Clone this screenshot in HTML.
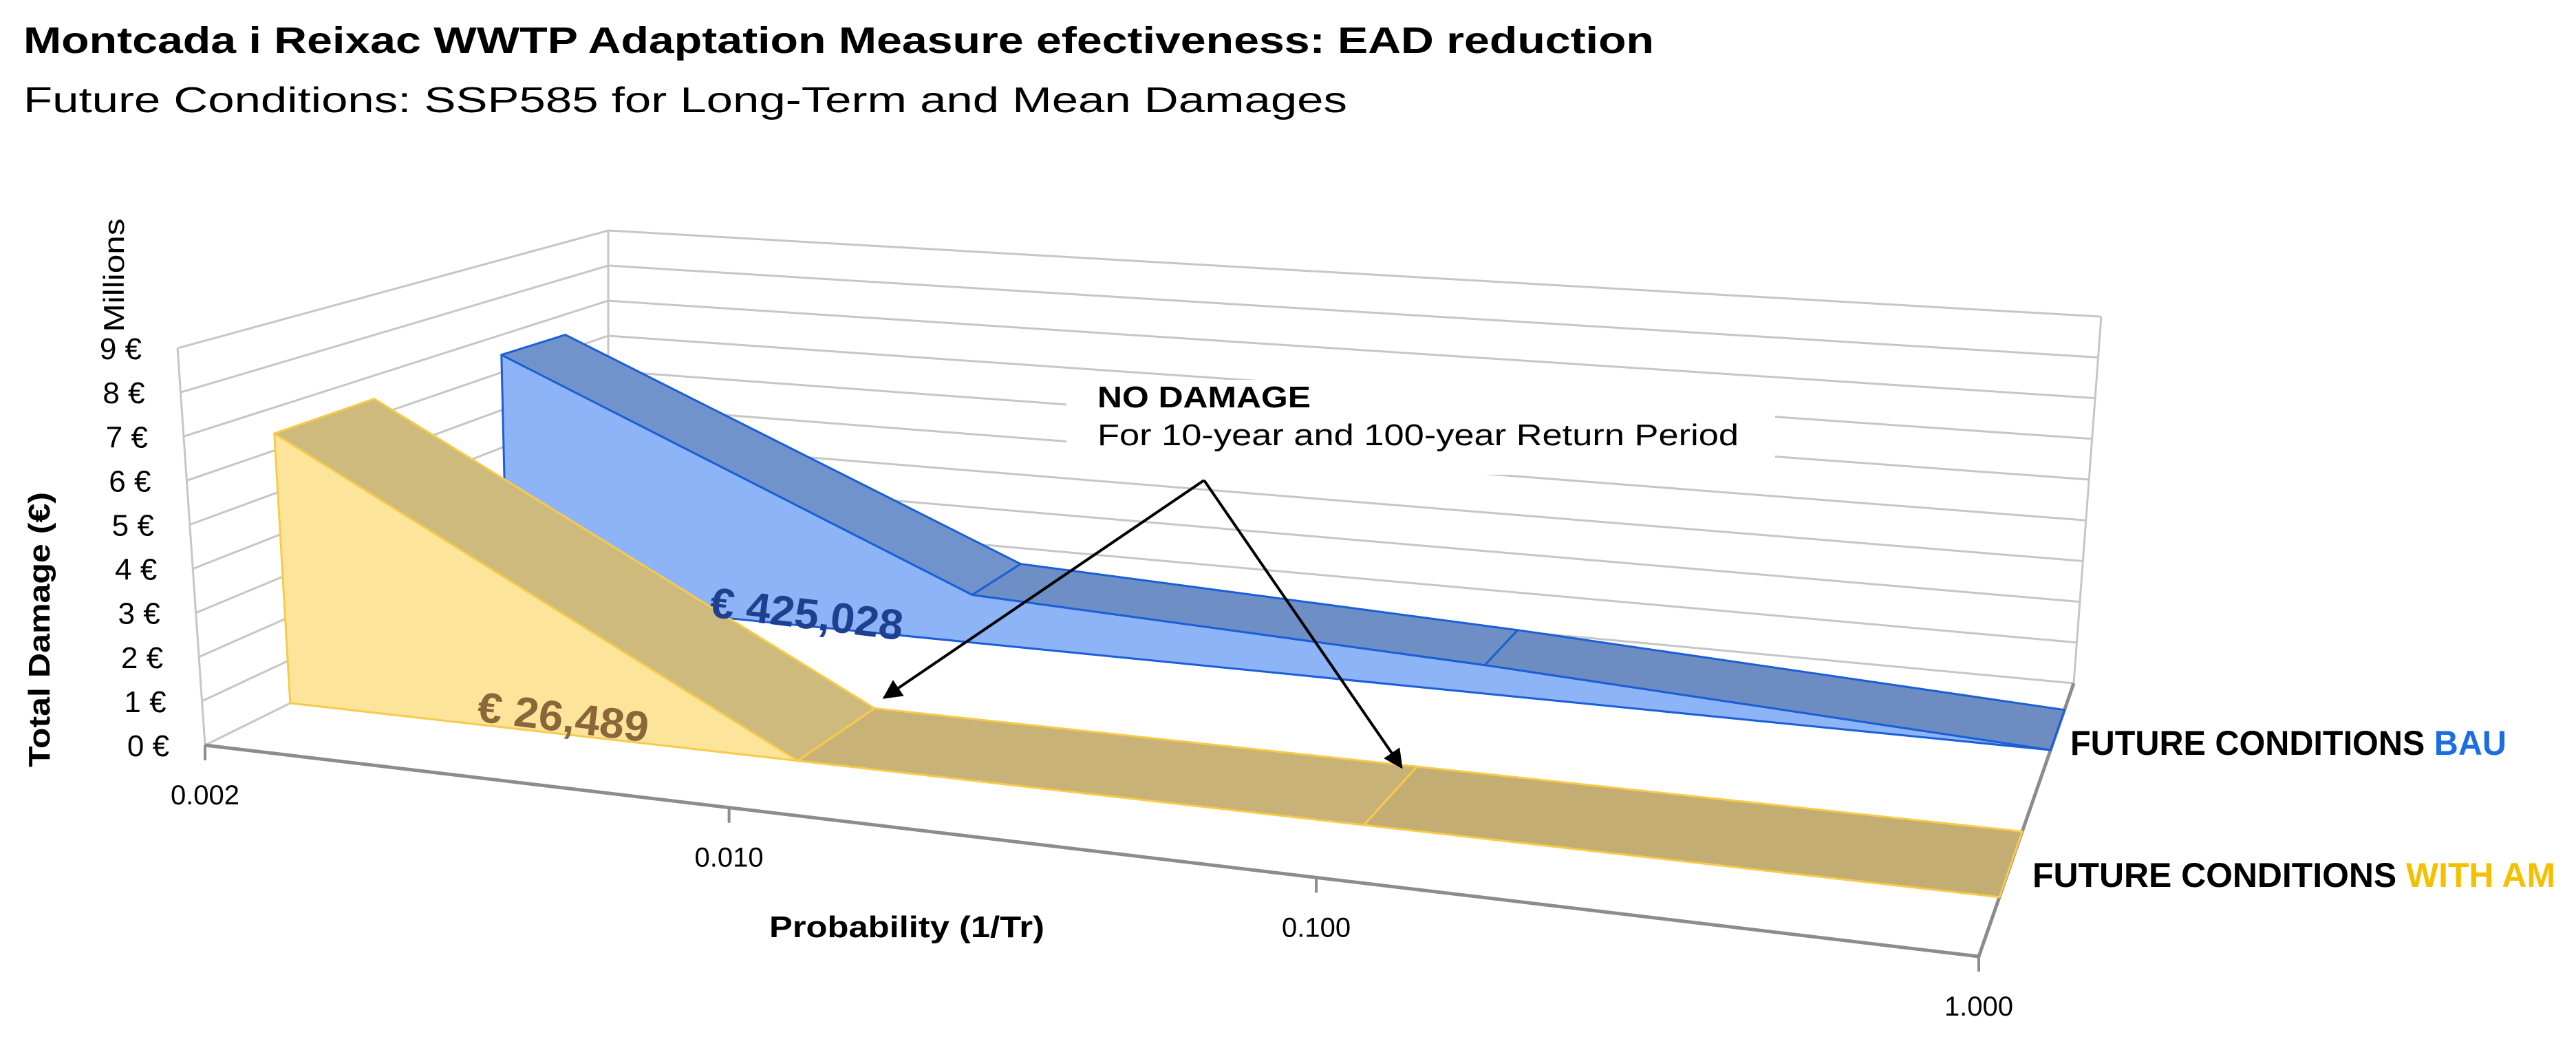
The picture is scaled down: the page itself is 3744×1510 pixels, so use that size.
<!DOCTYPE html>
<html><head><meta charset="utf-8"><style>
html,body{margin:0;padding:0;background:#fff}
svg{display:block}
text{font-family:"Liberation Sans",sans-serif}
</style></head><body>
<svg id="chart" width="3744" height="1510" viewBox="0 0 3744 1510" xmlns="http://www.w3.org/2000/svg">
<defs>
<marker id="arr" viewBox="0 0 10 10" refX="9" refY="5" markerWidth="7" markerHeight="7" orient="auto"><path d="M0,0 L10,5 L0,10 z" fill="#000"/></marker>
</defs>
<text x="34" y="77" font-size="54" font-weight="bold" textLength="2370" lengthAdjust="spacingAndGlyphs">Montcada i Reixac WWTP Adaptation Measure efectiveness: EAD reduction</text>
<text x="34" y="163" font-size="52" textLength="1924" lengthAdjust="spacingAndGlyphs">Future Conditions: SSP585 for Long-Term and Mean Damages</text>
<g id="grid"></g>
<rect x="1550" y="552" width="1030" height="138" fill="#fff"/>
<g id="series"></g>
<g id="labels"></g>
<text x="1595" y="592" font-size="44" font-weight="bold" textLength="310" lengthAdjust="spacingAndGlyphs">NO DAMAGE</text>
<text x="1595" y="647" font-size="44" textLength="932" lengthAdjust="spacingAndGlyphs">For 10-year and 100-year Return Period</text>
<line x1="1750" y1="698" x2="1285" y2="1014" stroke="#000" stroke-width="4" marker-end="url(#arr)"/>
<line x1="1750" y1="698" x2="2037" y2="1115" stroke="#000" stroke-width="4" marker-end="url(#arr)"/>
<text transform="translate(72,915) rotate(-90)" text-anchor="middle" font-size="44" font-weight="bold" textLength="400" lengthAdjust="spacingAndGlyphs">Total Damage (€)</text>
<text transform="translate(180,400) rotate(-90)" text-anchor="middle" font-size="42" textLength="165" lengthAdjust="spacingAndGlyphs">Millions</text>
<text x="1118" y="1362" font-size="44" font-weight="bold" textLength="400" lengthAdjust="spacingAndGlyphs">Probability (1/Tr)</text>
<text x="3009" y="1097" font-size="50" font-weight="bold" textLength="634" lengthAdjust="spacingAndGlyphs">FUTURE CONDITIONS <tspan fill="#1a6ee0">BAU</tspan></text>
<text x="2954" y="1289" font-size="50" font-weight="bold" textLength="760" lengthAdjust="spacingAndGlyphs">FUTURE CONDITIONS <tspan fill="#f5c000">WITH AM</tspan></text>
<text transform="translate(1030,896) rotate(7)" font-size="62" font-weight="bold" fill="#1f3f8f" textLength="282" lengthAdjust="spacingAndGlyphs">€ 425,028</text>
<text transform="translate(692,1048) rotate(7)" font-size="62" font-weight="bold" fill="#8a6638" textLength="250" lengthAdjust="spacingAndGlyphs">€ 26,489</text>
</svg>
<script>
const categories = ["0.002", "0.010", "0.100", "1.000"];
const bauValues = [6.4, 1.2, 0.68, 0];
const amValues = [6.35, 0, 0, 0];
const yTicks = [0, 1, 2, 3, 4, 5, 6, 7, 8, 9];
const yTickLabels = ["0 €", "1 €", "2 €", "3 €", "4 €", "5 €", "6 €", "7 €", "8 €", "9 €"];

const NS = "http://www.w3.org/2000/svg";
const P = [[298,1083],[2876,1390],[3014,993],[884,794]];
const UP = {fl:[-4.44,-64.1], fr:[8,-74], br:[4.44,-59.2], bl:[0,-51]};
const [x0,y0]=P[0],[x1,y1]=P[1],[x2,y2]=P[2],[x3,y3]=P[3];
const dx1=x1-x2, dx2=x3-x2, dx3=x0-x1+x2-x3, dy1=y1-y2, dy2=y3-y2, dy3=y0-y1+y2-y3;
const den=dx1*dy2-dx2*dy1;
const hg=(dx3*dy2-dx2*dy3)/den, hh=(dx1*dy3-dx3*dy1)/den;
const ha=x1-x0+hg*x1, hb=x3-x0+hh*x3, hd=y1-y0+hg*y1, he=y3-y0+hh*y3;
function floorPt(u,v){const w=hg*u+hh*v+1;return [(ha*u+hb*v+x0)/w,(hd*u+he*v+y0)/w];}
function upVec(u,v){
  const f=(k)=>(1-u)*(1-v)*UP.fl[k]+u*(1-v)*UP.fr[k]+u*v*UP.br[k]+(1-u)*v*UP.bl[k];
  return [f(0),f(1)];
}
function xScale(i){return i/(categories.length-1);}
function proj(u,v,z){const p=floorPt(u,v),q=upVec(u,v);return [p[0]+z*q[0],p[1]+z*q[1]];}
function pts(a){return a.map(p=>p[0].toFixed(1)+","+p[1].toFixed(1)).join(" ");}
function mk(tag,attrs,parent){const e=document.createElementNS(NS,tag);for(const k in attrs)e.setAttribute(k,attrs[k]);parent.appendChild(e);return e;}

const grid=document.getElementById("grid");
const series=document.getElementById("series");
const labels=document.getElementById("labels");

yTicks.forEach((t,i)=>{
  const a=proj(0,1,t),b=proj(1,1,t),c=proj(0,0,t);
  const l1=mk("polyline",{points:pts([c,a,b]),fill:"none",stroke:"#c6c6c6","stroke-width":3},grid);
  
  
  const f=proj(0,0,t);
  const tx=mk("text",{x:(f[0]-52).toFixed(1),y:(f[1]+16).toFixed(1),"text-anchor":"end","font-size":44},labels);
  tx.textContent=yTickLabels[i];
  
  
});
[[0,1],[1,1],[0,0]].forEach(([u,v])=>{
  const a=proj(u,v,0),b=proj(u,v,yTicks[yTicks.length-1]);
  const l=mk("line",{x1:a[0],y1:a[1],x2:b[0],y2:b[1],stroke:"#c6c6c6","stroke-width":3},grid);
  
  
});
{
  const a=proj(0,0,0),b=proj(1,0,0),c=proj(1,1,0);
  const ax=mk("polyline",{points:pts([a,b,c]),fill:"none",stroke:"#8c8c8c","stroke-width":5},grid);
  
  
  categories.forEach((c,i)=>{
    const p=proj(xScale(i),0,0);
    const tk=mk("line",{x1:p[0],y1:p[1],x2:p[0],y2:p[1]+22,stroke:"#8c8c8c","stroke-width":4},grid);
    
    
    const t=mk("text",{x:p[0].toFixed(1),y:(p[1]+86).toFixed(1),"text-anchor":"middle","font-size":40},labels);
    t.textContent=c;
    
    
  });
}

function drawSlab(vals,vf,vb,front,top,stroke,name){
  const n=vals.length;
  const ft=vals.map((z,i)=>proj(xScale(i),vf,z));
  const bt=vals.map((z,i)=>proj(xScale(i),vb,z));
  const base=vals.map((z,i)=>proj(xScale(i),vf,0)).reverse();
  const ff=mk("polygon",{points:pts(ft.concat(base)),fill:front,stroke:stroke,"stroke-width":3,"stroke-linejoin":"round"},series);
  
  
  for(let i=0;i<n-1;i++){
    const q=mk("polygon",{points:pts([ft[i],ft[i+1],bt[i+1],bt[i]]),fill:top[i]||top[top.length-1],stroke:stroke,"stroke-width":3,"stroke-linejoin":"round"},series);
    
    
  }
}
drawSlab(bauValues,0.71,0.88,"#8db4f7",["#7193cb","#6e8ec6","#6d8cc2"],"#1a5fd6","bau");
drawSlab(amValues,0.18,0.40,"#fde49b",["#cfba7e","#c8b277","#c3ad72"],"#f7cb4a","am");
</script>
</body></html>
